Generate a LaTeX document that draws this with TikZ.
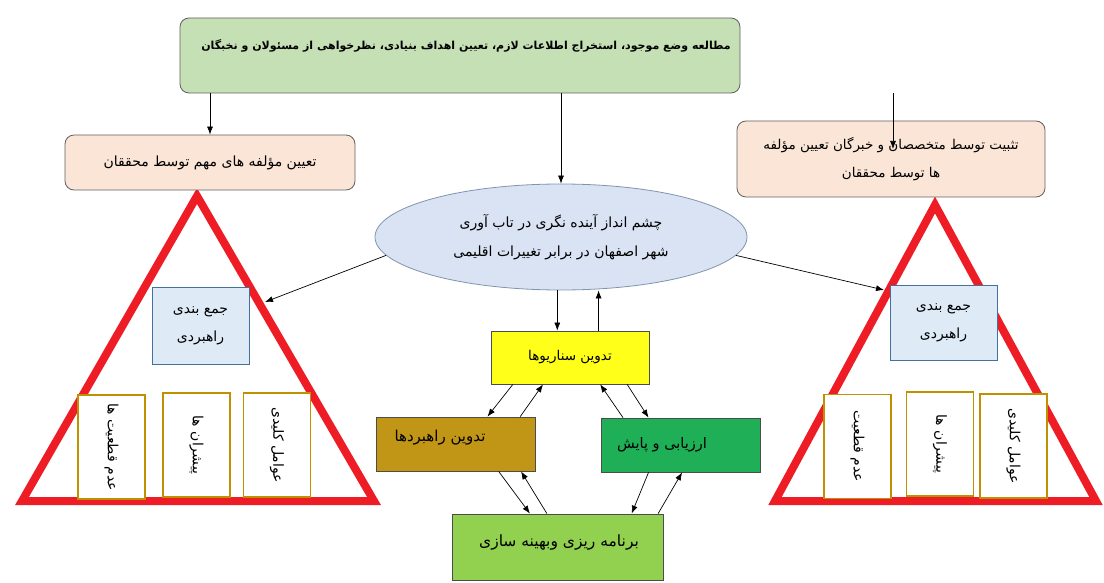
\documentclass[tikz,border=0pt]{standalone}
\usepackage{fontspec}
\newfontfamily\arabicfont[Script=Arabic]{DejaVu Sans}
\TeXXeTstate=1
\usetikzlibrary{arrows.meta,calc,shapes.geometric}
\newcommand{\fa}[1]{{\arabicfont\beginR #1\endR}}
\definecolor{topgreen}{HTML}{C5E0B4}
\definecolor{peach}{HTML}{FBE5D6}
\definecolor{skyblue}{HTML}{DAE3F3}
\definecolor{ellline}{HTML}{7F95AE}
\definecolor{sumblue}{HTML}{DEEBF7}
\definecolor{sumline}{HTML}{41719C}
\definecolor{gold}{HTML}{BF9000}
\definecolor{trired}{HTML}{EE1C25}
\definecolor{scenyellow}{HTML}{FFFF1A}
\definecolor{stratbrown}{HTML}{C19516}
\definecolor{evalgreen}{HTML}{1FAF57}
\definecolor{plangreen}{HTML}{92D050}
\begin{document}
\begin{tikzpicture}[x=1pt,y=-1pt,font=\fontsize{14}{17}\selectfont,
    rbox/.style={draw=gray!75!black,line width=0.8pt,rounded corners=9pt},
    sbox/.style={draw=gray!60!black,line width=0.8pt},
    bbox/.style={draw=sumline,fill=sumblue,line width=0.8pt,align=center},
    gbox/.style={draw=gold,fill=white,line width=1.6pt,minimum width=104pt,minimum height=67pt,rotate=-90},
    tri/.style={draw=trired,line width=8pt},
    arr/.style={-{Latex[length=8pt,width=6pt]},line width=0.7pt}]
        \useasboundingbox (0,0) rectangle (1104,583);
        %% Triangles
        \draw[tri] (197,196) -- (22,501) -- (374,501) -- cycle;
        \draw[tri] (935,205) -- (775,501) -- (1096,501) -- cycle;
        %% Top row
        \node[rbox,fill=topgreen,minimum width=560pt,minimum height=75pt] (T) at (460,55.5) {};
        \node[font=\fontsize{11}{13}\selectfont\bfseries] at (466,46) {\fa{مطالعه وضع موجود، استخراج اطلاعات لازم، تعیین اهداف بنیادی، نظرخواهی از مسئولان و نخبگان}};
        \node[rbox,fill=peach,minimum width=290pt,minimum height=55pt] (L) at (210,162.5) {\fa{تعیین مؤلفه های مهم توسط محققان}};
        \node[rbox,fill=peach,minimum width=308pt,minimum height=76pt,align=center,font=\fontsize{13.5}{16}\selectfont] (R) at (891,159) {\fa{تثبیت توسط متخصصان و خبرگان تعیین مؤلفه}\\[12pt]\fa{ها توسط محققان}};
        %% Vision
        \node[draw=ellline,fill=skyblue,line width=0.8pt,ellipse,minimum width=372pt,minimum height=106pt,inner sep=0pt,align=center] (E) at (561,237) {\fa{چشم انداز آینده نگری در تاب آوری}\\[12pt]\fa{شهر اصفهان در برابر تغییرات اقلیمی}};
        \draw[arr] (L.north |- T.south) -- (L.north);
        \draw[arr] (E.north |- T.south) -- (E.north);
        \coordinate (r1) at (893,149);
        \draw[arr] (r1 |- T.south) -- (r1);
        %% Summary boxes
        \node[bbox,minimum width=97pt,minimum height=77pt] (SL) at (200.5,325.5) {\fa{جمع بندی}\\[11pt]\fa{راهبردی}};
        \node[bbox,minimum width=107pt,minimum height=75pt] (SR) at (943.5,322.5) {\fa{جمع بندی}\\[11pt]\fa{راهبردی}};
        \coordinate (lt) at (265,302);
        \coordinate (rt) at (884,290);
        \draw[arr] (E.186) -- (lt);
        \draw[arr] (E.354) -- (rt);
        %% Components
        \foreach \x/\y/\txt/\nm in {111.5/447/عدم قطعیت ها/UL, 196.5/445/پیشران ها/DL, 277/445/عوامل کلیدی/KL,
                                   857.5/446.5/عدم قطعیت/UR, 940/444/پیشران ها/DR, 1013.5/446/عوامل کلیدی/KR}
            \node[gbox] (\nm) at (\x,\y) {\fa{\txt}};
        %% Cycle
        \node[sbox,fill=scenyellow,minimum width=158pt,minimum height=53pt,font=\fontsize{13.5}{16}\selectfont] (Y) at (570,357.5) {\fa{تدوین سناریوها}};
        \node[sbox,fill=stratbrown,minimum width=159pt,minimum height=54pt] (B) at (455.5,444) {};
        \node[font=\fontsize{15}{18}\selectfont] at (440,438) {\fa{تدوین راهبردها}};
        \node[sbox,fill=evalgreen,minimum width=159pt,minimum height=54pt] (G) at (680.5,445) {};
        \node[font=\fontsize{14.5}{17}\selectfont] at (662,445) {\fa{ارزیابی و پایش}};
        \node[sbox,fill=plangreen,minimum width=211pt,minimum height=66pt] (P) at (557.5,547) {};
        \node[font=\fontsize{15.5}{18}\selectfont] at (559,543) {\fa{برنامه ریزی وبهینه سازی}};
        \coordinate (y1) at ($(Y.north west)!0.42!(Y.north east)$);
        \coordinate (y2) at ($(Y.north west)!0.68!(Y.north east)$);
        \draw[arr] (E.south -| y1) -- (y1);
        \draw[arr] (y2) -- (E.south -| y2);
        %% Arrows down
        \foreach \a/\pa/\b/\pb in {Y/0.14/B/0.70, Y/0.86/G/0.30, B/0.77/P/0.37, G/0.30/P/0.85}
            \draw[arr] ($(\a.south west)!\pa!(\a.south east)$) -- ($(\b.north west)!\pb!(\b.north east)$);
        %% Arrows up
        \foreach \a/\pa/\b/\pb in {B/0.905/Y/0.33, G/0.14/Y/0.69, P/0.45/B/0.91, P/0.975/G/0.51}
            \draw[arr] ($(\a.north west)!\pa!(\a.north east)$) -- ($(\b.south west)!\pb!(\b.south east)$);
    \end{tikzpicture}
\end{document}
